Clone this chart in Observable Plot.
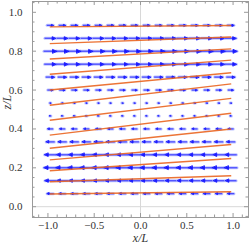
<!DOCTYPE html>
<html>
<head>
<meta charset="utf-8">
<script src="https://cdn.jsdelivr.net/npm/d3@7"></script>
<script src="https://cdn.jsdelivr.net/npm/@observablehq/plot@0.6"></script>
<style>
  html, body { margin: 0; padding: 0; background: #fff; }
  #chart svg { display: block; }
  #chart svg text { font-family: 'Liberation Serif', 'Times New Roman', serif; }
</style>
</head>
<body>
<div id="chart"></div>
<script>
// Arrow grid: row heights (z/L), column positions (x/L), horizontal velocity per row
const rowZ = [0.0667, 0.1333, 0.2, 0.2667, 0.3333, 0.4, 0.4667, 0.5333, 0.6, 0.6667, 0.7333, 0.8, 0.8667, 0.9333];
const rowU = [-0.5, -0.85, -1.0, -0.9, -0.65, -0.4, -0.1, 0.1, 0.4, 0.65, 0.9, 1.0, 0.85, 0.5];
const colX = [-0.975, -0.845, -0.715, -0.585, -0.455, -0.325, -0.195, -0.065, 0.065, 0.195, 0.325, 0.455, 0.585, 0.715, 0.845, 0.975];

// Orange tilted lines: z at left end and at right end
const lineX0 = -0.98;
const lineX1 = 0.98;
const lineZLeft  = [0.925, 0.839, 0.760, 0.681, 0.600, 0.522, 0.445, 0.368, 0.301, 0.241, 0.185, 0.128, 0.065];
const lineZRight = [0.932, 0.873, 0.812, 0.754, 0.689, 0.632, 0.557, 0.481, 0.400, 0.320, 0.248, 0.159, 0.077];

// Ticks
const xMajor = [-1, -0.5, 0, 0.5, 1];
const xMinor = [-1.1, -0.9, -0.8, -0.7, -0.6, -0.4, -0.3, -0.2, -0.1, 0.1, 0.2, 0.3, 0.4, 0.6, 0.7, 0.8, 0.9, 1.1];
const yMajor = [0, 0.2, 0.4, 0.6, 0.8, 1.0];
const yMinor = [-0.05, 0.05, 0.1, 0.15, 0.25, 0.3, 0.35, 0.45, 0.5, 0.55, 0.65, 0.7, 0.75, 0.85, 0.9, 0.95, 1.05];

const vectors = [];
rowZ.forEach((z, i) => colX.forEach(x => vectors.push({x, z, u: rowU[i]})));
const lines = lineZLeft.map((z0, i) => ({x1: lineX0, z1: z0, x2: lineX1, z2: lineZRight[i]}));

const arrowShape = {
  draw(context, l) {
    const h = l * 0.32;
    const w = h * 0.45;
    context.moveTo(0, 0);
    context.lineTo(0, -l + h);
    context.moveTo(0, -l);
    context.lineTo(-w, -l + h);
    context.lineTo(w, -l + h);
    context.closePath();
  }
};
const lineShape = {
  draw(context, l) {
    context.moveTo(0, 0);
    context.lineTo(0, -l);
  }
};

const W = 249, H = 247;
const mL = 32, mR = 1, mT = 1, mB = 30;
const innerW = W - mL - mR, innerH = H - mT - mB;
const frameC = "#9a9a9a";

const chart = Plot.plot({
  width: W,
  height: H,
  marginLeft: mL,
  marginRight: mR,
  marginTop: mT,
  marginBottom: mB,
  style: {fontFamily: "'Liberation Serif', 'Times New Roman', serif", fontSize: "11px", background: "#fff", color: "#333"},
  x: {domain: [-7/6, 7/6], axis: null},
  y: {domain: [-1/18, 19/18], axis: null},
  length: {domain: [0, 1], range: [0, 12.5]},
  marks: [
    Plot.ruleX([0], {stroke: "#d8d8d8", strokeWidth: 1}),
    Plot.ruleY([0], {stroke: "#d8d8d8", strokeWidth: 1}),
    // arrows halo
    Plot.vector(vectors, {x: "x", y: "z", length: d => Math.abs(d.u), rotate: d => d.u > 0 ? 90 : -90,
      anchor: "middle", shape: lineShape, stroke: "#a4abff", strokeWidth: 3, strokeOpacity: 0.7}),
    // arrows core
    Plot.vector(vectors, {x: "x", y: "z", length: d => Math.abs(d.u), rotate: d => d.u > 0 ? 90 : -90,
      anchor: "middle", shape: arrowShape, stroke: "#1818ff", fill: "#1818ff", strokeWidth: 0.9}),
    Plot.link(lines, {x1: "x1", y1: "z1", x2: "x2", y2: "z2", stroke: "#ea6520", strokeWidth: 1.4, strokeOpacity: 0.9}),
    Plot.frame({stroke: frameC, strokeWidth: 1}),
    // inward ticks
    Plot.ruleX(xMajor, {x: d => d, insetTop: innerH - 4, stroke: frameC}),
    Plot.ruleX(xMinor, {x: d => d, insetTop: innerH - 2.5, stroke: frameC}),
    Plot.ruleX(xMajor, {x: d => d, insetBottom: innerH - 4, stroke: frameC}),
    Plot.ruleX(xMinor, {x: d => d, insetBottom: innerH - 2.5, stroke: frameC}),
    Plot.ruleY(yMajor, {y: d => d, insetRight: innerW - 4, stroke: frameC}),
    Plot.ruleY(yMinor, {y: d => d, insetRight: innerW - 2.5, stroke: frameC}),
    Plot.ruleY(yMajor, {y: d => d, insetLeft: innerW - 4, stroke: frameC}),
    Plot.ruleY(yMinor, {y: d => d, insetLeft: innerW - 2.5, stroke: frameC}),
    Plot.axisX(xMajor, {tickSize: 0, tickPadding: 4, tickFormat: d3.format(".1f"), fontSize: 11, fill: "#333"}),
    Plot.axisY(yMajor, {tickSize: 0, tickPadding: 10, tickFormat: d3.format(".1f"), fontSize: 11, fill: "#333", label: null}),
    Plot.text(["x/L"], {frameAnchor: "bottom", dy: 24, fontStyle: "italic", fontSize: 12, fill: "#333"}),
    Plot.text(["z/L"], {frameAnchor: "left", dx: -25, rotate: -90, fontStyle: "italic", fontSize: 12, fill: "#333"})
  ]
});
document.getElementById("chart").appendChild(chart);
</script>
</body>
</html>
